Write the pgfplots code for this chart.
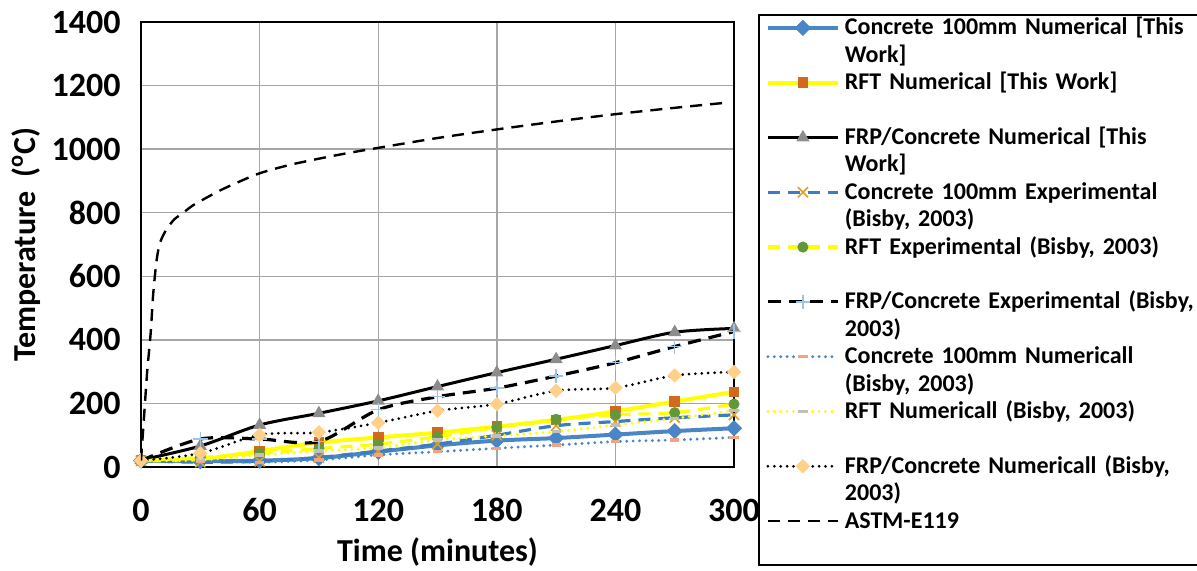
\documentclass[border=0pt]{standalone}
\usepackage{fontspec}
\setmainfont{Carlito}
\usepackage{pgfplots}
\pgfplotsset{compat=1.18}
\definecolor{cblue}{HTML}{4A86C5}
\definecolor{cblued}{HTML}{3C7DC2}
\definecolor{corange}{HTML}{D2691E}
\definecolor{cgray}{HTML}{8C8C8C}
\definecolor{cgold}{HTML}{E0A020}
\definecolor{cgreen}{HTML}{62983A}
\definecolor{clight}{HTML}{9DC3E6}
\definecolor{csalmon}{HTML}{F2A482}
\definecolor{cdash}{HTML}{BFBFBF}
\definecolor{cpeach}{HTML}{FFD08A}
\definecolor{cgrid}{HTML}{A6A6A6}
\definecolor{cyel}{HTML}{FFFF00}
\begin{document}
\begin{tikzpicture}
\begin{axis}[
  at={(0pt,0pt)}, anchor=south west,
  scale only axis, width=296.5pt, height=222.5pt,
  xmin=0, xmax=300, ymin=0, ymax=1400,
  xtick={0,60,...,300}, ytick={0,200,...,1400},
  major tick length=0pt,
  grid=major, major grid style={cgrid, line width=0.7pt},
  axis line style={black, line width=1pt},
  clip mode=individual,
  /pgf/number format/1000 sep={},
  /pgf/number format/assume math mode=true,
  ticklabel style={font=\fontsize{17}{20}\selectfont\bfseries},
  xticklabel style={anchor=center, yshift=-21.5pt},
  yticklabel style={anchor=east, inner sep=0pt, xshift=-10pt},
  every axis x label/.style={at={(axis description cs:0.5,-0.191)}, anchor=center},
  every axis y label/.style={at={(axis description cs:-0.1939,0.5)}, anchor=center, rotate=90},
  label style={font=\fontsize{16}{19}\selectfont\bfseries},
  xlabel={Time (minutes)},
  ylabel={Temperature\ \ (\textsuperscript{o}C)},
  legend image code/.code={\draw[mark repeat=2,mark phase=2,#1] plot coordinates {(0pt,3.5pt)(17.5pt,3.5pt)(35pt,3.5pt)};},
  legend style={at={(axis description cs:1.0405,1.018)}, anchor=north west,
    draw=black, line width=0.9pt, inner xsep=3.5pt, inner ysep=0.5pt,
    column sep=2.5pt, row sep=0pt,
    font=\fontsize{12}{13.7}\selectfont\bfseries,
    cells={anchor=base west},
    nodes={inner sep=0pt, text width=175pt, text height=9.5pt, text depth=17.9pt, align=left}},
]
% Concrete 100mm Numerical [This Work]
\addplot[cblue, line width=2pt, smooth, mark=square*, mark size=2.6pt, mark options={rotate=45, solid, fill=cblue, line width=0.5pt}] coordinates {
(0,20) (30,18) (60,20) (90,28) (120,48) (150,68) (180,83) (210,91) (240,102) (270,113) (300,122)};
\addlegendentry{Concrete 100mm Numerical [This\\Work]}
% RFT Numerical [This Work]
\addplot[cyel, line width=2pt, smooth, mark=square*, mark size=2.4pt, mark options={solid, fill=corange, draw=corange, line width=0.5pt}] coordinates {
(0,20) (30,25) (60,50) (90,77) (120,93) (150,108) (180,127) (210,148) (240,175) (270,206) (300,236)};
\addlegendentry{RFT Numerical [This Work]}
% FRP/Concrete Numerical [This Work]
\addplot[black, line width=1.5pt, smooth, mark=triangle*, mark size=3.3pt, mark options={solid, fill=cgray, draw=cgray, line width=0.5pt}] coordinates {
(0,22) (30,66) (60,132) (90,169) (120,208) (150,253) (180,297) (210,339) (240,382) (270,424) (300,436)};
\addlegendentry{FRP/Concrete Numerical [This\\Work]}
% Concrete 100mm Experimental
\addplot[cblued, line width=1.6pt, smooth, dash pattern=on 6pt off 4pt, mark=x, mark size=3.6pt, mark options={solid, draw=cgold, line width=0.8pt}] coordinates {
(0,20) (30,15) (60,18) (90,30) (120,50) (150,72) (180,100) (210,130) (240,143) (270,155) (300,164)};
\addlegendentry{Concrete 100mm Experimental\\(Bisby, 2003)}
% RFT Experimental
\addplot[cyel, line width=1.6pt, smooth, dash pattern=on 6pt off 4pt, mark=*, mark size=2.5pt, mark options={solid, fill=cgreen, draw=cgreen, line width=0.5pt}] coordinates {
(0,20) (30,30) (60,43) (90,58) (120,72) (150,95) (180,125) (210,150) (240,164) (270,171) (300,198)};
\addlegendentry{RFT Experimental (Bisby, 2003)}
% FRP/Concrete Experimental
\addplot[black, line width=1.6pt, smooth, dash pattern=on 6.5pt off 4pt, mark=+, mark size=3.6pt, mark options={solid, draw=clight, line width=0.7pt}] coordinates {
(0,20) (30,88) (60,88) (90,80) (120,180) (150,221) (180,248) (210,286) (240,328) (270,379) (300,426)};
\addlegendentry{FRP/Concrete Experimental (Bisby,\\2003)}
% Concrete 100mm Numericall (Bisby)
\addplot[cblue, line width=1.6pt, smooth, line cap=round, dash pattern=on 0pt off 3.2pt, mark=-, mark size=2.3pt, mark options={solid, line cap=butt, draw=csalmon, line width=1.7pt}] coordinates {
(0,20) (30,18) (60,15) (90,22) (120,38) (150,48) (180,59) (210,69) (240,80) (270,85) (300,93)};
\addlegendentry{Concrete 100mm Numericall\\(Bisby, 2003)}
% RFT Numericall (Bisby)
\addplot[cyel, line width=1.6pt, smooth, line cap=round, dash pattern=on 0pt off 3.2pt, mark=-, mark size=2.3pt, mark options={solid, line cap=butt, draw=cdash, line width=1.7pt}] coordinates {
(0,20) (30,22) (60,38) (90,50) (120,60) (150,85) (180,98) (210,111) (240,132) (270,153) (300,177)};
\addlegendentry{RFT Numericall (Bisby, 2003)}
% FRP/Concrete Numericall (Bisby)
\addplot[black, line width=1.5pt, smooth, line cap=round, dash pattern=on 0pt off 3.2pt, mark=square*, mark size=2.3pt, mark options={rotate=45, solid, fill=cpeach, draw=cpeach, line width=0.5pt}] coordinates {
(0,20) (30,43) (60,101) (90,109) (120,139) (150,177) (180,198) (210,240) (240,249) (270,288) (300,299)};
\addlegendentry{FRP/Concrete Numericall (Bisby,\\2003)}
% ASTM-E119
\addplot[black, line width=1.2pt, smooth, dash pattern=on 6pt off 4pt, mark=none] coordinates {
(0,20) (1,110) (2,200) (3,290) (4,360) (5,430) (6,530) (7,600) (8,655) (9,690) (10,712) (12,738) (14,757) (17,780) (22,803) (26,822) (31,840) (40,870) (48,893) (60,924) (75,950) (90,970) (105,988) (120,1004) (150,1035) (180,1062) (210,1087) (240,1110) (270,1130) (296,1146)};
\addlegendentry{ASTM-E119}
\end{axis}
\pgfresetboundingbox
\path[use as bounding box] (-70.5pt,-52pt) rectangle (528pt,233.5pt);
\end{tikzpicture}
\end{document}
